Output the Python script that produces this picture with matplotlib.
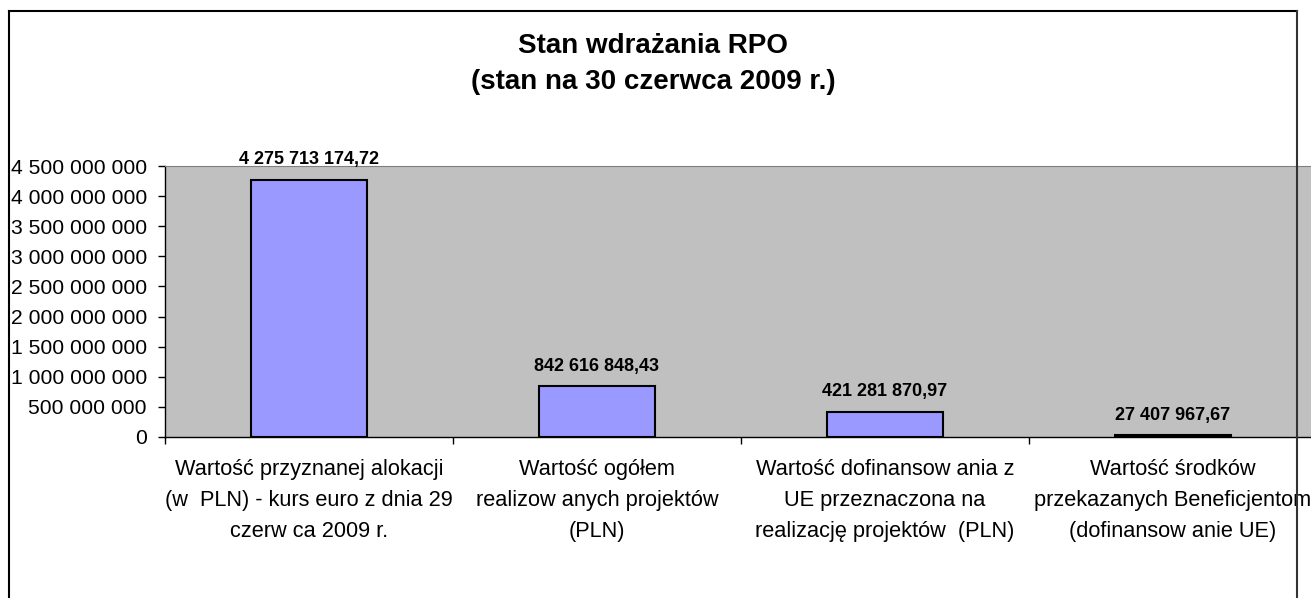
import matplotlib
matplotlib.use("Agg")
import matplotlib.pyplot as plt
from matplotlib.lines import Line2D
from matplotlib.ticker import FuncFormatter, FixedLocator

# -----------------------------
# Data
# -----------------------------
TITLE = "Stan wdrażania RPO\n(stan na 30 czerwca 2009 r.)"
categories = [
    "Wartość przyznanej alokacji\n(w  PLN) - kurs euro z dnia 29\nczerw ca 2009 r.",
    "Wartość ogółem\nrealizow anych projektów\n(PLN)",
    "Wartość dofinansow ania z\nUE przeznaczona na\nrealizację projektów  (PLN)",
    "Wartość środków\nprzekazanych Beneficjentom\n(dofinansow anie UE)",
]
values = [4275713174.72, 842616848.43, 421281870.97, 27407967.67]
y_ticks = [0, 500e6, 1000e6, 1500e6, 2000e6, 2500e6, 3000e6, 3500e6, 4000e6, 4500e6]

plt.rcParams['font.family'] = ['Liberation Sans', 'DejaVu Sans']

W, H = 1311, 598
fig = plt.figure(figsize=(W / 100, H / 100), dpi=100)

# plot area in pixels: left 165, top 166, bottom 437, category width 288
ax = fig.add_axes([165 / W, (H - 437) / H, 4 * 288 / W, 271 / H])
ax.set_facecolor("#C0C0C0")

x = [i + 0.5 for i in range(len(values))]
ax.bar(x, values, width=0.4, color="#9999FF", edgecolor="black", linewidth=1.5, zorder=3)

for xi, v in zip(x, values):
    lbl = f"{v:,.2f}".replace(",", " ").replace(".", ",")
    ax.annotate(lbl, (xi, v), xytext=(0, 14.5), textcoords="offset points",
                ha="center", va="center", fontsize=13, fontweight="bold")

ax.set_xlim(0, 4)
ax.set_ylim(0, 4500e6)
ax.set_yticks(y_ticks)
ax.yaxis.set_major_formatter(FuncFormatter(lambda v, p: f"{v:,.0f}".replace(",", " ")))
ax.tick_params(axis="y", direction="out", length=5, width=1, labelsize=15.2, pad=8)

ax.xaxis.set_major_locator(FixedLocator([0, 1, 2, 3, 4]))
ax.xaxis.set_major_formatter(FuncFormatter(lambda v, p: ""))
ax.xaxis.set_minor_locator(FixedLocator(x))
ax.set_xticklabels(categories, minor=True, fontsize=15.7, linespacing=1.62)
ax.tick_params(axis="x", which="major", direction="out", length=5, width=1)
ax.tick_params(axis="x", which="minor", length=0, pad=16)

ax.spines["top"].set_color("#808080")
ax.spines["right"].set_visible(False)
ax.spines["left"].set_linewidth(1)
ax.spines["bottom"].set_linewidth(1)

fig.text(0.5 * (9 + 1297) / W, 1 - 64 / H, TITLE, ha="center", va="center",
         fontsize=20, fontweight="bold", linespacing=1.5)

# outer chart border
bl, br, bt = 9 / W, 1297 / W, 1 - 11 / H
fig.add_artist(Line2D([bl, bl], [0, bt], color="black", lw=1.5, zorder=10))
fig.add_artist(Line2D([bl, br], [bt, bt], color="black", lw=1.5, zorder=10))
fig.add_artist(Line2D([br, br], [0, bt], color="#333333", lw=1.5, zorder=10))

fig.savefig("out.png", dpi=100)
